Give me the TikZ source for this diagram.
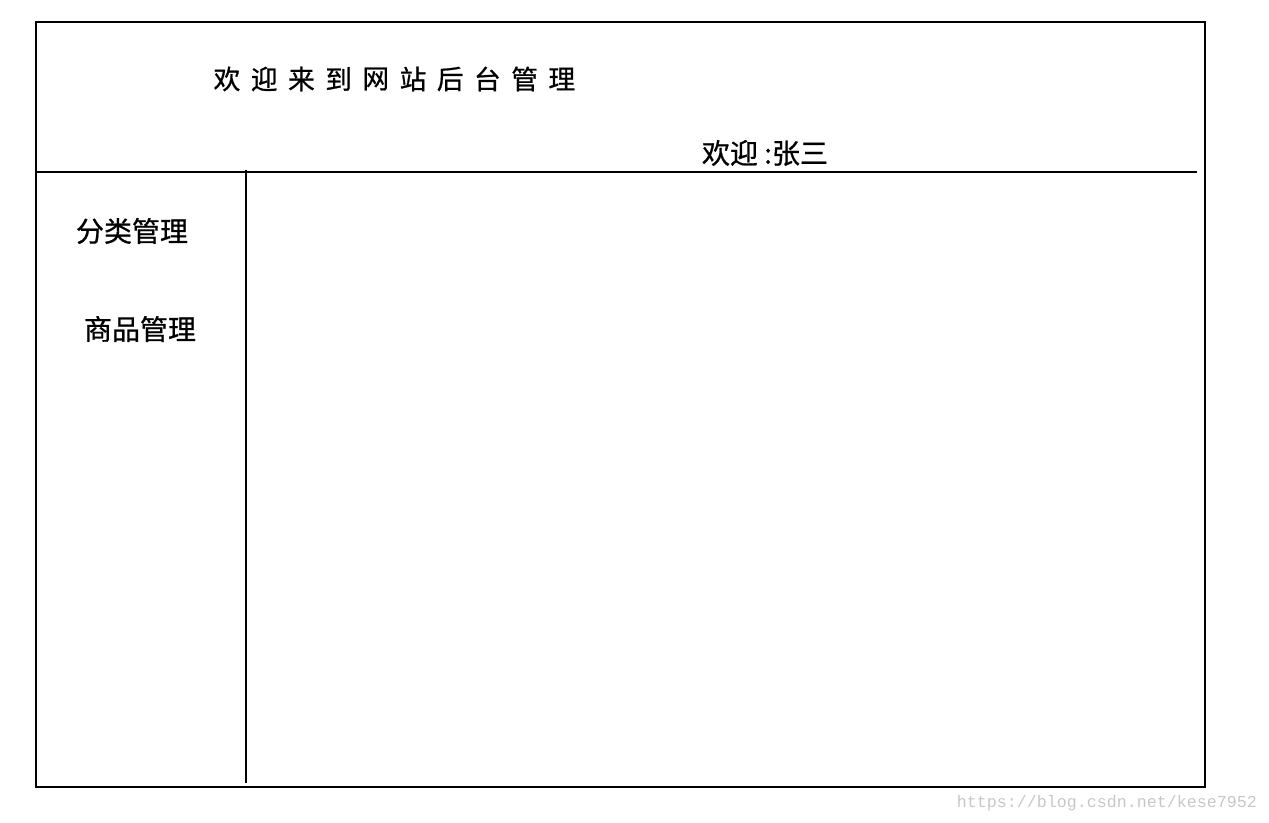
\documentclass[tikz,border=0pt]{standalone}
\usepackage{fontspec}
\newfontfamily\cjk[FakeBold=0.8]{Noto Sans CJK SC}
\setmonofont{Liberation Mono}
\begin{document}
\begin{tikzpicture}[x=0.75pt, y=-0.75pt, line width=1.5pt,
    cn/.style={font=\cjk\fontsize{21}{21}\selectfont, inner sep=0pt},
    ttl/.style={font=\cjk\fontsize{20}{20}\selectfont, inner sep=0pt}]
  \useasboundingbox (0,0) rectangle (1269,823);
  \draw (36,22) rectangle (1205,787);
  \coordinate (hl) at (36,172);
  \coordinate (hr) at (1197,172);
  \coordinate (vt) at (246,170);
  \coordinate (vb) at (246,783);
  \draw (hl) -- (hr);
  \draw (vt) -- (vb);
  % title, wide spaced
  \foreach \c [count=\i] in {欢,迎,来,到,网,站,后,台,管,理}
    \node [ttl] (t\i) at ({227+37.2*(\i-1)}, 79) {\c};
  \node [cn] (user) at (765,153) {欢迎 :张三};
  \node [cn] (cat) at (132,231) {分类管理};
  \node [cn] (goods) at (140,329) {商品管理};
  \node [font=\ttfamily\fontsize{12.5}{12.5}\selectfont, text=black!22, inner sep=0pt] (wm) at (1107,803) {https://blog.csdn.net/kese7952};
\end{tikzpicture}
\end{document}
